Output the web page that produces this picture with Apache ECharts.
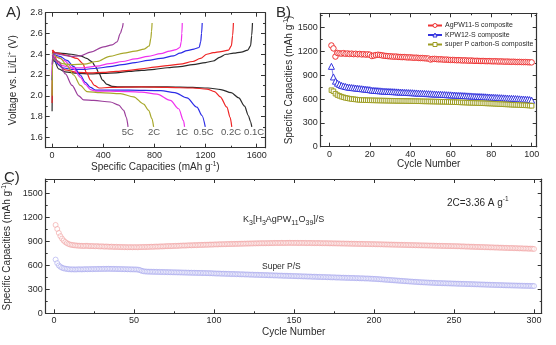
<!DOCTYPE html>
<html>
<head>
<meta charset="utf-8">
<script src="https://cdn.jsdelivr.net/npm/echarts@6/dist/echarts.min.js"></script>
<style>
html,body{margin:0;padding:0;background:#fff;}
#chart{width:556px;height:345px;}
</style>
</head>
<body>
<div id="chart"></div>
<script>
// ---------- Panel A: galvanostatic profiles, [capacity (mAh/g), voltage (V)] ----------
const dis01C = [[0,2.42],[60,2.41],[150,2.40],[220,2.385],[270,2.36],[310,2.33],[340,2.28],[365,2.22],[395,2.15],[430,2.11],[470,2.09],[520,2.085],[700,2.085],[900,2.085],[1100,2.08],[1220,2.075],[1320,2.06],[1400,2.03],[1460,1.98],[1505,1.90],[1535,1.81],[1552,1.75],[1562,1.70]];
const chg01C = [[0,1.85],[3,2.30],[8,2.36],[20,2.33],[50,2.26],[100,2.23],[200,2.215],[300,2.21],[400,2.215],[500,2.22],[600,2.235],[700,2.245],[800,2.255],[900,2.27],[1000,2.28],[1100,2.30],[1200,2.32],[1260,2.335],[1310,2.37],[1360,2.40],[1420,2.41],[1480,2.42],[1530,2.44],[1552,2.48],[1561,2.58],[1567,2.70]];
const dis02C = [[0,2.44],[40,2.41],[117,2.39],[195,2.36],[240,2.31],[270,2.22],[300,2.15],[330,2.10],[370,2.075],[450,2.08],[700,2.085],[900,2.08],[1100,2.075],[1211,2.065],[1270,2.04],[1315,1.99],[1367,1.89],[1393,1.79],[1405,1.70]];
const chg02C = [[0,1.93],[3,2.40],[8,2.44],[20,2.38],[50,2.30],[100,2.25],[200,2.225],[300,2.22],[400,2.225],[500,2.235],[600,2.245],[700,2.26],[800,2.275],[900,2.29],[1000,2.305],[1100,2.33],[1160,2.36],[1210,2.40],[1260,2.415],[1320,2.425],[1380,2.44],[1402,2.48],[1412,2.58],[1418,2.70]];
const dis05C = [[0,2.41],[60,2.38],[117,2.34],[170,2.28],[220,2.20],[260,2.13],[300,2.08],[340,2.055],[400,2.055],[600,2.055],[850,2.05],[960,2.03],[1055,1.98],[1133,1.89],[1172,1.81],[1198,1.70]];
const chg05C = [[0,2.15],[4,2.35],[10,2.38],[30,2.32],[80,2.27],[150,2.255],[250,2.255],[350,2.265],[450,2.28],[550,2.30],[650,2.32],[750,2.34],[850,2.36],[950,2.385],[1000,2.41],[1055,2.435],[1110,2.45],[1150,2.465],[1162,2.52],[1169,2.60],[1174,2.70]];
const dis1C = [[0,2.40],[50,2.37],[91,2.34],[169,2.26],[220,2.18],[260,2.11],[300,2.06],[340,2.045],[450,2.045],[600,2.04],[700,2.035],[820,2.015],[925,1.955],[990,1.875],[1028,1.76],[1036,1.70]];
const chg1C = [[0,2.20],[4,2.36],[10,2.39],[30,2.34],[80,2.29],[150,2.27],[250,2.27],[350,2.285],[450,2.31],[550,2.33],[650,2.355],[750,2.38],[850,2.405],[920,2.43],[970,2.445],[1000,2.465],[1010,2.52],[1015,2.60],[1018,2.70]];
const dis2C = [[0,2.41],[65,2.36],[117,2.29],[169,2.20],[221,2.10],[273,2.04],[378,2.03],[534,2.02],[638,1.99],[716,1.92],[755,1.86],[781,1.78],[794,1.70]];
const chg2C = [[0,2.00],[4,2.33],[10,2.37],[30,2.34],[80,2.31],[150,2.30],[250,2.305],[350,2.33],[450,2.38],[560,2.41],[650,2.43],[720,2.45],[760,2.48],[772,2.55],[778,2.62],[782,2.70]];
const dis5C = [[0,2.39],[52,2.33],[104,2.21],[156,2.10],[208,2.00],[247,1.96],[326,1.955],[456,1.94],[521,1.91],[560,1.86],[581,1.79],[594,1.70]];
const chg5C = [[0,2.30],[5,2.38],[15,2.41],[50,2.40],[100,2.39],[150,2.38],[221,2.385],[300,2.42],[403,2.47],[470,2.49],[508,2.52],[534,2.60],[548,2.65],[556,2.70]];
const rateLabels = ['0.1C','0.2C','0.5C','1C','2C','5C'];
const rateLabelCap = [1580,1399,1184,1016,797,592];
const rateLabelVolt = 1.648;

// ---------- Panel B: cycling of the three cathodes, capacity (mAh/g) per cycle 1..100 ----------
const cyclesB = Array.from({length:100},(_,i)=>i+1);
const agpwB = [1275,1238,1135,1180,1176,1172,1178,1170,1174,1168,
  1172,1166,1170,1164,1168,1162,1165,1160,1163,1158,
  1142,1148,1154,1158,1155,1150,1146,1143,1140,1138,
  1136,1134,1135,1131,1130,1128,1129,1126,1124,1125,
  1122,1120,1121,1118,1116,1117,1114,1112,1110,1098,
  1104,1106,1103,1100,1101,1098,1096,1097,1094,1092,
  1093,1091,1089,1090,1088,1086,1087,1085,1084,1085,
  1083,1081,1082,1080,1079,1080,1078,1077,1078,1076,
  1075,1076,1074,1073,1074,1072,1071,1072,1070,1069,
  1070,1068,1067,1068,1066,1065,1066,1064,1063,1062];
const kpwB = [1012,878,825,800,785,772,765,758,752,748,
  745,742,739,736,733,730,727,724,721,718,
  712,710,708,706,704,702,700,699,697,696,
  694,693,691,690,688,687,685,684,682,681,
  680,678,677,675,674,672,671,669,668,667,
  665,664,662,661,660,658,657,655,654,653,
  651,650,648,647,646,644,643,641,640,639,
  637,636,634,633,632,630,629,627,626,624,
  623,621,620,618,617,615,614,612,611,609,
  608,606,605,603,601,600,598,596,594,585];
const superPB = [712,698,668,650,640,630,622,615,610,605,
  601,598,595,592,590,588,587,586,585,584,
  584,583,583,582,582,581,581,580,580,579,
  579,578,578,577,577,576,576,575,575,574,
  574,573,573,572,572,571,571,570,570,569,
  569,568,568,567,567,566,566,565,564,563,
  562,561,560,559,558,557,556,555,554,553,
  552,551,550,549,548,547,546,545,544,543,
  542,540,539,537,536,535,533,532,531,529,
  528,527,526,524,523,522,521,520,518,515];
const seriesNamesB = ['AgPW11-S composite','KPW12-S composite','super P carbon-S composite'];

// ---------- Panel C: long-term cycling at 2C, capacity (mAh/g) per cycle 1..300 ----------
const cyclesC = Array.from({length:300},(_,i)=>i+1);
const agpwC = [1105,1055,1005,965,935,910,892,878,868,860,
  856,852,850,848,846,845,844,843,842,845,
  843,841,840,842,839,838,840,837,836,838,
  835,834,836,833,832,834,831,830,832,829,
  830,828,829,827,828,826,827,828,826,827,
  828,826,827,829,828,830,829,831,830,832,
  833,832,834,835,834,836,837,836,838,839,
  840,841,840,842,843,844,843,845,846,847,
  848,847,849,850,851,850,852,853,852,854,
  855,856,855,857,858,857,859,860,859,861,
  862,861,863,864,863,865,864,866,867,866,
  868,867,869,868,870,869,871,870,872,871,
  873,872,874,873,875,874,876,875,877,876,
  877,876,878,877,878,879,878,880,879,880,
  879,881,880,879,881,880,882,881,880,881,
  880,881,879,880,881,879,880,878,879,880,
  878,879,877,878,879,877,878,876,877,876,
  877,875,876,875,874,875,873,874,873,872,
  873,871,872,871,870,871,869,870,869,868,
  869,867,868,867,866,867,865,866,864,865,
  864,863,864,862,863,861,862,860,861,859,
  860,858,859,857,858,856,857,855,856,854,
  855,853,854,852,853,851,852,850,851,849,
  850,848,849,847,848,846,847,845,846,844,
  845,843,844,842,843,841,842,840,841,839,
  840,838,839,837,836,837,835,834,835,833,
  832,833,831,830,831,829,828,829,827,826,
  827,825,824,825,823,822,823,821,820,821,
  819,818,819,817,816,817,815,814,815,813,
  812,813,811,810,811,809,808,809,807,805];
const superPC = [672,628,598,582,570,563,558,555,552,550,
  549,550,548,549,550,551,549,550,551,552,
  551,552,553,552,554,553,554,555,554,555,
  556,555,556,557,556,555,556,554,555,553,
  554,552,553,551,552,550,551,549,550,548,
  549,547,545,538,530,526,523,522,520,521,
  519,520,518,519,517,518,516,517,515,516,
  514,515,513,514,512,513,511,512,510,511,
  509,510,508,509,507,508,506,507,505,506,
  504,505,503,504,502,503,501,502,500,499,
  498,497,498,496,495,496,494,493,494,492,
  491,492,490,489,490,488,487,488,486,485,
  486,484,483,484,482,481,482,480,479,480,
  478,477,478,476,475,476,474,473,474,472,
  471,472,470,469,470,468,467,468,466,465,
  466,464,463,464,462,461,462,460,459,460,
  458,457,458,456,455,456,454,453,454,452,
  451,452,450,449,450,448,447,448,446,445,
  446,444,443,444,442,441,442,440,439,440,
  438,437,438,436,435,436,434,433,432,431,
  430,428,427,425,424,422,421,419,418,416,
  415,413,412,410,409,407,406,404,403,401,
  400,398,397,396,394,393,392,390,389,388,
  387,386,385,384,383,382,381,380,379,378,
  378,377,376,376,375,374,374,373,372,372,
  371,370,370,369,368,368,367,366,366,365,
  364,364,363,362,362,361,360,360,359,358,
  358,357,356,356,355,354,354,353,352,352,
  351,350,350,349,349,348,348,347,347,346,
  346,345,345,344,344,343,343,342,342,341];

// ---------- tick positions ----------
const capTicks = [0,400,800,1200,1600], capMinor = [200,600,1000,1400];
const voltTicks = [1.6,1.8,2.0,2.2,2.4,2.6,2.8], voltMinor = [1.7,1.9,2.1,2.3,2.5,2.7];
const cycBTicks = [0,20,40,60,80,100], cycBMinor = [10,30,50,70,90];
const cycCTicks = [0,50,100,150,200,250,300], cycCMinor = [25,75,125,175,225,275];
const specTicks = [0,300,600,900,1200,1500], specMinor = [150,450,750,1050,1350,1650];

// ---------- styling helpers ----------
const FONT = 'Liberation Sans, Arial, Helvetica, sans-serif';
const INK = '#2a2a2a';
const FRAME = '#333';

const nameRich = {
  n: {fontFamily: FONT, fontSize: 10, color: INK, lineHeight: 13},
  sup: {fontFamily: FONT, fontSize: 6.5, color: INK, verticalAlign: 'top', lineHeight: 13}
};
const capName = '{n|Specific Capacities (mAh g}{sup|-1}{n|)}';

function axisGroup(dim, grid, min, max, majors, minors, fmt, name, nameGap) {
  const mainPos = dim === 'x' ? 'bottom' : 'left';
  const oppPos = dim === 'x' ? 'top' : 'right';
  const base = {type: 'value', gridIndex: grid, min: min, max: max, splitLine: {show: false}, silent: true};
  const line = {show: true, onZero: false, lineStyle: {color: FRAME, width: 1.2}};
  const tickStyle = {color: FRAME, width: 1};
  return [
    Object.assign({}, base, {
      position: mainPos, axisLine: line,
      axisTick: {show: true, inside: true, length: 4, customValues: majors, lineStyle: tickStyle},
      axisLabel: {show: true, customValues: majors, formatter: fmt, margin: 3, fontFamily: FONT, fontSize: 9, color: INK},
      name: name, nameLocation: 'middle', nameGap: nameGap,
      nameTextStyle: {rich: nameRich}
    }),
    Object.assign({}, base, {
      position: mainPos, axisLine: {show: false, onZero: false},
      axisTick: {show: true, inside: true, length: 2, customValues: minors, lineStyle: tickStyle},
      axisLabel: {show: false}
    }),
    Object.assign({}, base, {
      position: oppPos, axisLine: line,
      axisTick: {show: true, inside: true, length: 4, customValues: majors, lineStyle: tickStyle},
      axisLabel: {show: false}
    }),
    Object.assign({}, base, {
      position: oppPos, axisLine: {show: false, onZero: false},
      axisTick: {show: true, inside: true, length: 2, customValues: minors, lineStyle: tickStyle},
      axisLabel: {show: false}
    })
  ];
}

const intFmt = v => String(Math.round(v));
const voltFmt = v => v.toFixed(1);

const xAxes = [].concat(
  axisGroup('x', 0, -50, 1665, capTicks, capMinor, intFmt, capName, 11),
  axisGroup('x', 1, -4.3, 102.5, cycBTicks, cycBMinor, intFmt, '{n|Cycle Number}', 11.5),
  axisGroup('x', 2, -5.2, 304.8, cycCTicks, cycCMinor, intFmt, '{n|Cycle Number}', 12)
);
const yAxes = [].concat(
  axisGroup('y', 0, 1.5, 2.8, voltTicks, voltMinor, voltFmt, '{n|Voltage vs. Li/Li}{sup|+}{n| (V)}', 26),
  axisGroup('y', 1, 0, 1680, specTicks, specMinor, intFmt, capName, 24),
  axisGroup('y', 2, 0, 1680, specTicks, specMinor, intFmt, capName, 24)
);

// ---------- series ----------
const profileSets = [
  {d: dis01C, c: chg01C, color: '#2b2b2b'},
  {d: dis02C, c: chg02C, color: '#ee2424'},
  {d: dis05C, c: chg05C, color: '#2c2ce6'},
  {d: dis1C,  c: chg1C,  color: '#f032ee'},
  {d: dis2C,  c: chg2C,  color: '#a8a82c'},
  {d: dis5C,  c: chg5C,  color: '#9b3f9b'}
];
const series = [];
profileSets.forEach((p, i) => {
  [p.d, p.c].forEach((pts, k) => {
    series.push({
      type: 'line', name: rateLabels[i] + (k ? ' charge' : ' discharge'),
      xAxisIndex: 0, yAxisIndex: 0, data: pts,
      showSymbol: false, smooth: 0.3, smoothMonotone: 'x',
      lineStyle: {color: p.color, width: 1.2}, itemStyle: {color: p.color},
      silent: true, z: 3
    });
  });
});
series.push({
  type: 'scatter', name: 'rate labels', xAxisIndex: 0, yAxisIndex: 0,
  symbolSize: 0, silent: true,
  data: rateLabels.map((t, i) => ({name: t, value: [rateLabelCap[i], rateLabelVolt]})),
  label: {show: true, position: 'inside', formatter: p => p.name, fontFamily: FONT, fontSize: 9.5, color: INK}
});

// open markers: white fill, coloured outline
const bColors = ['#ee3434', '#3434de', '#9d9d22'];
const bSymbols = ['circle', 'triangle', 'rect'];
[agpwB, kpwB, superPB].forEach((vals, i) => {
  series.push({
    type: 'line', name: seriesNamesB[i], xAxisIndex: 4, yAxisIndex: 4,
    data: cyclesB.map((c, j) => [c, vals[j]]),
    symbol: bSymbols[i], symbolSize: i === 1 ? 6 : (i === 2 ? 4.5 : 5.5), showAllSymbol: true,
    lineStyle: {color: bColors[i], width: 0.6},
    itemStyle: {color: '#fff', borderColor: bColors[i], borderWidth: 1}, silent: true
  });
});

const cColors = ['#ef9696', '#9e9eec'];
[agpwC, superPC].forEach((vals, i) => {
  series.push({
    type: 'scatter', name: i ? 'Super P/S' : 'K3[H3AgPW11O39]/S', xAxisIndex: 8, yAxisIndex: 8,
    data: cyclesC.map((c, j) => [c, vals[j]]),
    symbol: 'circle', symbolSize: 5,
    itemStyle: {color: 'rgba(255,255,255,0.55)', borderColor: cColors[i], borderWidth: 0.7}, silent: true
  });
});

const textBase = {fontFamily: FONT, fill: INK};
const option = {
  backgroundColor: '#fff',
  animation: false,
  grid: [
    {left: 45.7, right: 291, top: 12.7, bottom: 197.3, outerBoundsMode: 'none'},
    {left: 320.7, right: 19.3, top: 13.3, bottom: 198.3, outerBoundsMode: 'none'},
    {left: 45.7, right: 14.3, top: 179, bottom: 31.7, outerBoundsMode: 'none'}
  ],
  xAxis: xAxes,
  yAxis: yAxes,
  legend: {
    data: seriesNamesB.map((n, i) => ({
      name: n,
      itemStyle: {color: '#fff', borderColor: bColors[i], borderWidth: 1}
    })),
    orient: 'vertical', left: 422, top: 17,
    itemWidth: 14, itemHeight: 5, itemGap: 2.5, selectedMode: false,
    textStyle: {fontFamily: FONT, fontSize: 7, color: INK, padding: [0, 0, 0, -2]}
  },
  graphic: [
    {type: 'text', left: 6, top: 5, style: Object.assign({text: 'A)', fontSize: 15}, textBase)},
    {type: 'text', left: 276, top: 5, style: Object.assign({text: 'B)', fontSize: 15}, textBase)},
    {type: 'text', left: 4, top: 170, style: Object.assign({text: 'C)', fontSize: 15}, textBase)},
    {type: 'text', left: 447, top: 196, style: {
      text: '{n|2C=3.36 A g}{s|-1}',
      rich: {n: {fontFamily: FONT, fontSize: 10, fill: INK, lineHeight: 14}, s: {fontFamily: FONT, fontSize: 6.5, fill: INK, verticalAlign: 'top', lineHeight: 14}}
    }},
    {type: 'text', left: 243, top: 215, style: {
      text: '{n|K}{b|3}{n|[H}{b|3}{n|AgPW}{b|11}{n|O}{b|39}{n|]/S}',
      rich: {n: {fontFamily: FONT, fontSize: 9, fill: INK, lineHeight: 14}, b: {fontFamily: FONT, fontSize: 7, fill: INK, verticalAlign: 'bottom', lineHeight: 14}}
    }},
    {type: 'text', left: 262, top: 262, style: Object.assign({text: 'Super P/S', fontSize: 8.5}, textBase)}
  ],
  series: series
};

const chart = echarts.init(document.getElementById('chart'), null, {renderer: 'canvas'});
chart.setOption(option);
</script>
</body>
</html>
